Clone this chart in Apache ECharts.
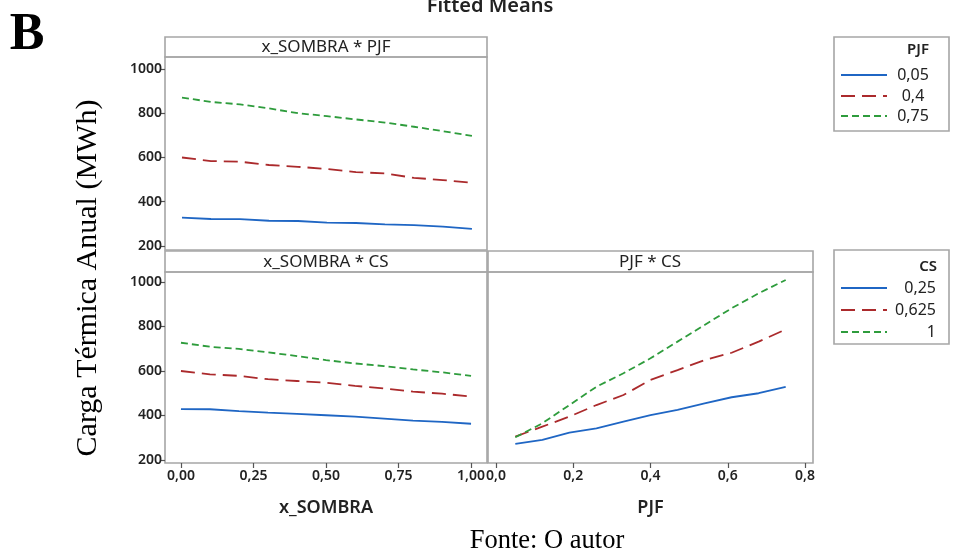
<!DOCTYPE html>
<html>
<head>
<meta charset="utf-8">
<script src="https://cdn.jsdelivr.net/npm/echarts@6/dist/echarts.min.js"></script>
<style>
  html, body { margin: 0; padding: 0; background: #fff; }
  #chart { width: 955px; height: 552px; }
</style>
</head>
<body>
<div id="chart"></div>
<script>
// x_SOMBRA levels
var xSombra = [0, 0.1, 0.2, 0.3, 0.4, 0.5, 0.6, 0.7, 0.8, 0.9, 1.0];
// x_SOMBRA * PJF
var sombraPjf005 = [328, 322, 321, 314, 313, 306, 304, 298, 294, 288, 277];
var sombraPjf04  = [600, 584, 581, 566, 558, 548, 534, 528, 508, 498, 486];
var sombraPjf075 = [871, 851, 840, 822, 800, 787, 772, 758, 739, 719, 698];
// x_SOMBRA * CS
var sombraCs025  = [429, 428, 420, 413, 407, 401, 395, 386, 377, 371, 363];
var sombraCs0625 = [600, 585, 578, 563, 555, 547, 533, 522, 507, 498, 485];
var sombraCs1    = [727, 709, 699, 684, 667, 649, 634, 622, 607, 594, 578];
// PJF * CS
var pjfX = [0.05, 0.12, 0.19, 0.26, 0.33, 0.40, 0.47, 0.54, 0.61, 0.68, 0.75];
var pjfCs025  = [272, 290, 323, 342, 372, 402, 425, 455, 482, 500, 529];
var pjfCs0625 = [305, 350, 395, 447, 492, 560, 604, 649, 682, 732, 787];
var pjfCs1    = [302, 365, 447, 529, 590, 657, 732, 807, 882, 949, 1009];

var yTicks = [200, 400, 600, 800, 1000];
var sombraTicks = [0, 0.25, 0.5, 0.75, 1];
var pjfTicks = [0, 0.2, 0.4, 0.6, 0.8];

var pjfLegend = ['0,05', '0,4', '0,75'];
var csLegend = ['0,25', '0,625', '1'];

var colors = ['#1f66c4', '#ab2a2c', '#2e9c3c'];
var dashes = ['solid', [14, 7], [7, 4]];

var frameColor = '#a6a6a6';
var sansFont = 'Noto Sans';

function pairs(xs, ys) {
    var out = [];
    for (var i = 0; i < xs.length; i++) out.push([xs[i], ys[i]]);
    return out;
}

function comma(d) {
    return function (v) { return v.toFixed(d).replace('.', ','); };
}

function lineSeries(idx, xs, ys, k) {
    return {
        type: 'line',
        xAxisIndex: idx,
        yAxisIndex: idx,
        data: pairs(xs, ys),
        showSymbol: false,
        symbol: 'none',
        silent: true,
        lineStyle: { color: colors[k], width: 1.8, type: dashes[k] }
    };
}

function yAx(idx, min, max, showLabels) {
    return {
        type: 'value', gridIndex: idx, min: min, max: max,
        axisLine: { show: false, onZero: false },
        splitLine: { show: false },
        axisTick: { show: showLabels, customValues: yTicks, length: 5, lineStyle: { color: '#555', width: 1.2 } },
        axisLabel: { show: showLabels, customValues: yTicks, formatter: function (v) { return String(v); },
                     color: '#222', fontFamily: sansFont, fontWeight: 600, fontSize: 14, margin: 3 }
    };
}

function xAx(idx, min, max, ticks, fmt, showLabels, name) {
    return {
        type: 'value', gridIndex: idx, min: min, max: max,
        name: name || '', nameLocation: 'middle', nameGap: 36,
        nameTextStyle: { color: '#222', fontFamily: sansFont, fontWeight: 600, fontSize: 18 },
        axisLine: { show: false, onZero: false },
        splitLine: { show: false },
        axisTick: { show: showLabels, customValues: ticks, length: 5, lineStyle: { color: '#555', width: 1.2 } },
        axisLabel: { show: showLabels, customValues: ticks, formatter: fmt, color: '#222',
                     fontFamily: sansFont, fontWeight: 600, fontSize: 14, margin: 6 }
    };
}

function frame(x, y, w, h) {
    return { type: 'rect', shape: { x: x, y: y, width: w, height: h },
             style: { fill: null, stroke: frameColor, lineWidth: 1.6 }, silent: true };
}

function label(txt, x, y, opts) {
    var st = { text: txt, x: x, y: y, fill: '#222', font: '17px "Noto Sans"', align: 'center', verticalAlign: 'middle' };
    for (var k in opts) st[k] = opts[k];
    return { type: 'text', style: st, silent: true };
}

function legendBox(x, y, h, title, items, align, textX, rowY) {
    var els = [frame(x, y, 115, h)];
    els.push(label(title, x + (align === 'center' ? 95 : 103), y + rowY[0], { align: 'right', font: '600 15px "Noto Sans"' }));
    for (var i = 0; i < items.length; i++) {
        var ly = y + rowY[i + 1];
        els.push({ type: 'line', shape: { x1: x + 7, y1: ly, x2: x + 53, y2: ly },
                   style: { stroke: colors[i], lineWidth: 1.8, lineDash: dashes[i] === 'solid' ? null : dashes[i] },
                   silent: true });
        els.push(label(items[i], x + textX, ly, { align: align, font: '16px "Noto Sans"' }));
    }
    return els;
}

var yTitle = label('Carga Térmica Anual (MWh)', 0, 0, { font: '30px "Liberation Serif"', fill: '#000' });
yTitle.rotation = Math.PI / 2;
yTitle.x = 88;
yTitle.y = 278;

var graphics = [
    // top-left panel
    frame(165, 37, 322, 20), frame(165, 57, 322, 193),
    label('x_SOMBRA * PJF', 326, 47),
    // bottom-left panel
    frame(165, 251, 322, 21), frame(165, 272, 322, 191),
    label('x_SOMBRA * CS', 326, 262),
    // bottom-right panel
    frame(488, 251, 325, 21), frame(488, 272, 325, 191),
    label('PJF * CS', 650, 262),
    // texts
    label('Fitted Means', 490, 6, { font: '600 20px "Noto Sans"' }),
    label('B', 27, 36, { font: 'bold 52px "Liberation Serif"', fill: '#000' }),
    yTitle,
    label('Fonte: O autor', 547, 541, { font: '26.5px "Liberation Serif"', fill: '#000' })
];

graphics = graphics.concat(legendBox(834, 37, 94, 'PJF', pjfLegend, 'center', 79, [13, 38, 59, 79]));
graphics = graphics.concat(legendBox(834, 250, 94, 'CS', csLegend, 'right', 102, [17, 38, 60, 82]));

var option = {
    animation: false,
    backgroundColor: '#fff',
    grid: [
        { left: 165, top: 57, width: 322, height: 193 },
        { left: 165, top: 272, width: 322, height: 191 },
        { left: 488, top: 272, width: 325, height: 191 }
    ],
    xAxis: [
        xAx(0, -0.0586, 1.052, sombraTicks, comma(2), false),
        xAx(1, -0.055, 1.055, sombraTicks, comma(2), true, 'x_SOMBRA'),
        xAx(2, -0.0207, 0.8207, pjfTicks, comma(1), true, 'PJF')
    ],
    yAxis: [
        yAx(0, 181.9, 1054.2, true),
        yAx(1, 186.5, 1044.9, true),
        yAx(2, 186.5, 1044.9, false)
    ],
    series: [
        lineSeries(0, xSombra, sombraPjf005, 0),
        lineSeries(0, xSombra, sombraPjf04, 1),
        lineSeries(0, xSombra, sombraPjf075, 2),
        lineSeries(1, xSombra, sombraCs025, 0),
        lineSeries(1, xSombra, sombraCs0625, 1),
        lineSeries(1, xSombra, sombraCs1, 2),
        lineSeries(2, pjfX, pjfCs025, 0),
        lineSeries(2, pjfX, pjfCs0625, 1),
        lineSeries(2, pjfX, pjfCs1, 2)
    ],
    graphic: graphics
};

var myChart = echarts.init(document.getElementById('chart'));
myChart.setOption(option);
</script>
</body>
</html>
